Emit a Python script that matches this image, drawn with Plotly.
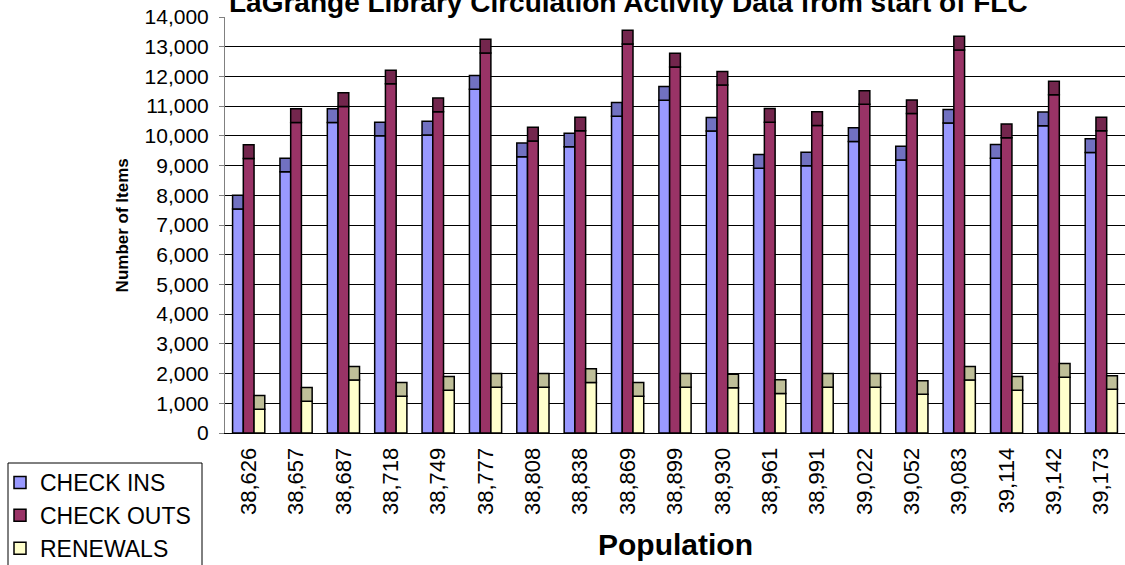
import plotly.graph_objects as go

population = ["38,626", "38,657", "38,687", "38,718", "38,749", "38,777", "38,808",
              "38,838", "38,869", "38,899", "38,930", "38,961", "38,991", "39,022",
              "39,052", "39,083", "39,114", "39,142", "39,173"]
check_ins = [8000, 9250, 10910, 10460, 10490, 12030, 9760, 10090, 11120, 11660,
             10620, 9370, 9450, 10270, 9650, 10890, 9710, 10800, 9900]
check_outs = [9700, 10910, 11450, 12210, 11270, 13250, 10290, 10630, 13550, 12780,
              12170, 10920, 10810, 11520, 11210, 13350, 10400, 11840, 10630]
renewals = [1260, 1530, 2240, 1700, 1900, 2000, 2000, 2160, 1700, 2000,
            1980, 1790, 2000, 2000, 1760, 2240, 1900, 2340, 1930]

CAP = 460  # apparent depth of the 3-D top face, in axis units

series = [
    ("CHECK INS", check_ins, "#9999FF", "#7171C1"),
    ("CHECK OUTS", check_outs, "#993366", "#73264D"),
    ("RENEWALS", renewals, "#FFFFCC", "#BFBF99"),
]

FONT = "Liberation Sans, Arial, sans-serif"
W, H = 1125, 565
fig = go.Figure()
for i, (name, vals, front, top) in enumerate(series):
    body = [v - CAP for v in vals]
    fig.add_trace(go.Bar(
        x=population, y=body, name=name, offsetgroup=str(i), legendgroup=str(i),
        marker=dict(color=front, line=dict(color="black", width=1.5)),
    ))
    fig.add_trace(go.Bar(
        x=population, y=[CAP] * len(vals), base=body, offsetgroup=str(i),
        legendgroup=str(i), showlegend=False,
        marker=dict(color=top, line=dict(color="black", width=1.5)),
    ))

fig.update_layout(
    width=W, height=H,
    margin=dict(l=225, r=0, t=17, b=132, autoexpand=False),
    paper_bgcolor="white", plot_bgcolor="white",
    barmode="group", bargap=0.32, bargroupgap=0,
    font=dict(family=FONT, size=22, color="black"),
    showlegend=True,
    legend=dict(
        xref="container", yref="container",
        x=0, y=(H - 461) / H, xanchor="left", yanchor="top",
        bgcolor="rgba(0,0,0,0)", borderwidth=0,
        font=dict(family=FONT, size=23, color="black"),
        tracegroupgap=3, traceorder="normal",
    ),
    xaxis=dict(
        type="category", tickangle=-90, showline=True, linecolor="black",
        linewidth=1, showgrid=False, ticks="", ticklabelstandoff=5,
        tickfont=dict(family=FONT, size=22, color="black"), automargin=False,
    ),
    yaxis=dict(
        range=[0, 14000], dtick=1000, tickformat=",d", showgrid=True,
        gridcolor="black", gridwidth=1, zeroline=False, showline=True,
        linecolor="#808080", linewidth=1, ticks="outside", ticklen=5,
        tickcolor="#808080", ticklabelstandoff=6, automargin=False,
        tickfont=dict(family=FONT, size=21, color="black"),
    ),
    shapes=[
        dict(type="rect", xref="paper", yref="paper",
             x0=(8 - 225) / 900, x1=(202 - 225) / 900,
             y0=(433 - 463) / 416, y1=(433 - 575) / 416,
             line=dict(color="black", width=1), fillcolor="rgba(0,0,0,0)",
             layer="below"),
    ],
    annotations=[
        dict(text="<b>LaGrange Library Circulation Activity Data from start of FLC</b>",
             xref="paper", yref="paper", x=0.448, y=1.036, xanchor="center",
             yanchor="middle", showarrow=False,
             font=dict(family=FONT, size=28, color="black")),
        dict(text="<b>Population</b>", xref="paper", yref="paper", x=0.5, y=-0.269,
             xanchor="center", yanchor="middle", showarrow=False,
             font=dict(family=FONT, size=30, color="black")),
        dict(text="<b>Number of Items</b>", xref="paper", yref="paper", x=-0.114,
             y=0.5, xanchor="center", yanchor="middle", textangle=-90,
             showarrow=False, font=dict(family=FONT, size=17, color="black")),
    ],
)

fig.write_html("out.html", config={"displayModeBar": False},
               post_script="document.body.style.margin='0';"
                           "document.body.style.overflow='hidden';")
